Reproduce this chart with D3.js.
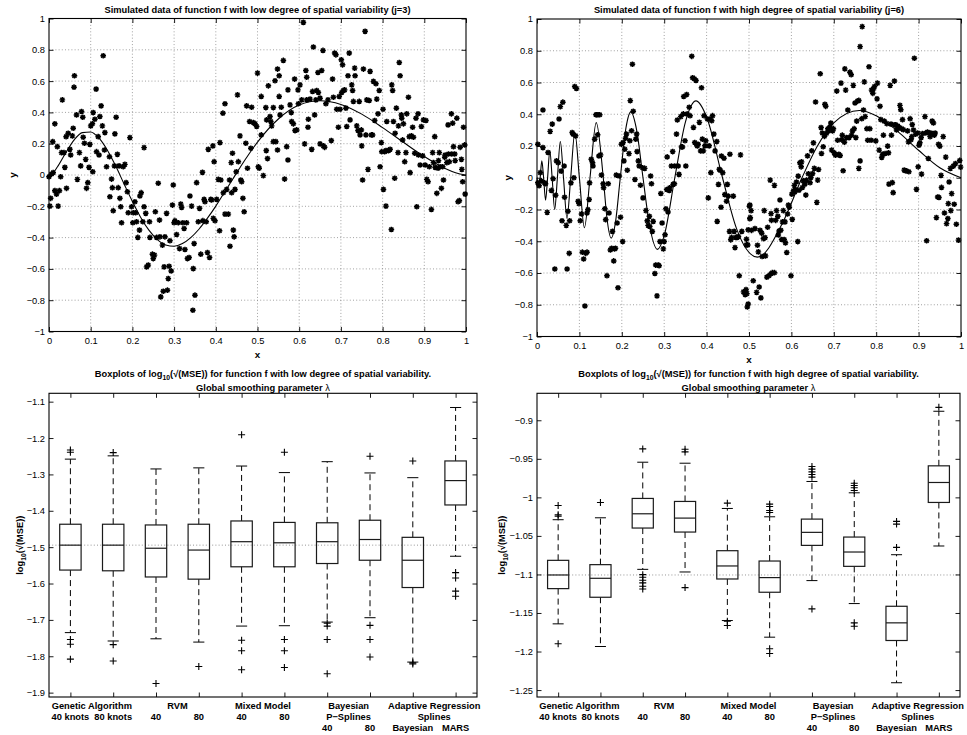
<!DOCTYPE html>
<html><head><meta charset="utf-8">
<script src="https://cdn.jsdelivr.net/npm/d3@7"></script>
<style>body{margin:0;background:#fff}svg{display:block}</style>
</head><body>
<svg id="chart" width="967" height="735"></svg>
<script>
// ---------------- DATA ----------------
const scatterXTicks = [0,0.1,0.2,0.3,0.4,0.5,0.6,0.7,0.8,0.9,1];
const scatterXLabels = ["0","0.1","0.2","0.3","0.4","0.5","0.6","0.7","0.8","0.9","1"];
const scatterYTicks = [-1,-0.8,-0.6,-0.4,-0.2,0,0.2,0.4,0.6,0.8,1];
const scatterYLabels = ["\u22121","\u22120.8","\u22120.6","\u22120.4","\u22120.2","0","0.2","0.4","0.6","0.8","1"];

// true function f, low spatial variability (j=3)
const lowCurveX = [0,0.01,0.02,0.04,0.06,0.08,0.10,0.12,0.14,0.16,0.18,0.20,0.22,0.24,0.26,0.28,0.30,0.32,0.34,0.36,0.38,0.40,0.42,0.44,0.46,0.48,0.50,0.55,0.60,0.65,0.70,0.75,0.80,0.85,0.90,0.95,0.975,1.0];
const lowCurveY = [0,0.014,0.051,0.141,0.223,0.271,0.275,0.235,0.158,0.057,-0.057,-0.169,-0.271,-0.354,-0.413,-0.447,-0.455,-0.438,-0.400,-0.345,-0.276,-0.199,-0.114,-0.029,0.056,0.136,0.210,0.358,0.447,0.474,0.451,0.389,0.303,0.209,0.118,0.042,0.015,0];

// true function f, high spatial variability (j=6)
const highCurveX = [0,0.0036,0.0074,0.0114,0.0156,0.0202,0.025,0.0302,0.0357,0.0417,0.0481,0.055,0.0625,0.0707,0.0795,0.0893,0.1,0.1118,0.125,0.1397,0.1563,0.165,0.175,0.185,0.1964,0.21,0.2212,0.235,0.25,0.265,0.2841,0.30,0.325,0.35,0.375,0.40,0.4375,0.47,0.52,0.58,0.625,0.66,0.70,0.76,0.80,0.85,0.90,0.95,1.0];
const highCurveY = [0,-0.060,0,0.106,0,-0.141,0,0.171,0,-0.200,0,0.228,0,-0.256,0,0.285,0,-0.315,0,0.347,0,-0.255,-0.380,-0.282,0,0.317,0.415,0.300,0,-0.293,-0.451,-0.365,0,0.351,0.484,0.383,0,-0.316,-0.500,-0.280,0,0.194,0.346,0.424,0.391,0.294,0.173,0.063,0];

// simulated data, j=3
const lowPoints = [[0.000,-0.011],[0.006,0.006],[0.010,0.015],[0.004,-0.149],[0.002,-0.199],[0.009,0.213],[0.014,0.327],[0.020,0.181],[0.014,-0.100],[0.018,-0.122],[0.025,-0.100],[0.022,-0.199],[0.028,-0.011],[0.032,0.480],[0.030,0.143],[0.036,0.143],[0.038,0.049],[0.041,0.245],[0.046,0.267],[0.042,-0.085],[0.050,0.164],[0.052,0.128],[0.056,0.250],[0.058,0.299],[0.061,0.634],[0.060,0.561],[0.066,0.384],[0.068,-0.028],[0.073,0.143],[0.076,0.058],[0.078,0.406],[0.081,0.369],[0.082,0.241],[0.085,0.203],[0.088,0.100],[0.090,-0.085],[0.093,-0.049],[0.096,0.049],[0.098,0.196],[0.100,0.314],[0.104,0.327],[0.106,0.399],[0.105,0.021],[0.110,0.356],[0.113,0.549],[0.114,0.149],[0.118,0.245],[0.120,0.128],[0.122,0.374],[0.125,0.442],[0.128,0.314],[0.133,0.160],[0.134,0.271],[0.130,0.762],[0.138,0.053],[0.145,0.117],[0.146,-0.139],[0.150,-0.026],[0.152,-0.081],[0.154,-0.228],[0.157,0.058],[0.158,0.263],[0.161,0.369],[0.164,0.132],[0.166,-0.081],[0.168,0.058],[0.170,-0.149],[0.172,-0.203],[0.174,-0.305],[0.178,0.053],[0.182,0.068],[0.185,-0.049],[0.188,-0.107],[0.190,-0.241],[0.194,0.239],[0.198,-0.203],[0.201,-0.305],[0.202,-0.241],[0.206,-0.171],[0.208,-0.241],[0.210,-0.299],[0.213,-0.399],[0.217,-0.352],[0.218,-0.134],[0.221,-0.113],[0.225,-0.299],[0.228,0.175],[0.228,-0.203],[0.232,-0.245],[0.234,-0.587],[0.238,-0.576],[0.241,-0.299],[0.242,-0.399],[0.248,-0.506],[0.250,-0.534],[0.253,-0.512],[0.255,-0.235],[0.258,-0.399],[0.262,-0.053],[0.265,-0.288],[0.266,-0.395],[0.268,-0.779],[0.272,-0.448],[0.274,-0.743],[0.276,-0.587],[0.278,-0.395],[0.282,-0.245],[0.284,-0.736],[0.286,-0.662],[0.288,-0.583],[0.290,-0.420],[0.293,-0.613],[0.296,-0.192],[0.298,-0.064],[0.300,-0.305],[0.302,-0.292],[0.306,-0.380],[0.310,-0.305],[0.313,-0.470],[0.316,-0.186],[0.318,-0.207],[0.321,-0.305],[0.324,-0.342],[0.326,-0.476],[0.330,-0.305],[0.332,-0.534],[0.336,-0.527],[0.338,-0.134],[0.342,-0.199],[0.345,-0.864],[0.346,-0.598],[0.348,-0.438],[0.350,-0.768],[0.354,-0.049],[0.358,-0.299],[0.361,-0.213],[0.364,-0.506],[0.368,0.017],[0.369,-0.292],[0.372,-0.156],[0.374,-0.171],[0.377,-0.299],[0.380,-0.495],[0.382,0.164],[0.385,-0.527],[0.388,-0.156],[0.390,-0.160],[0.393,0.186],[0.394,-0.277],[0.396,0.085],[0.398,-0.292],[0.402,-0.156],[0.406,-0.028],[0.409,-0.356],[0.410,0.207],[0.412,-0.032],[0.417,0.395],[0.418,-0.113],[0.422,0.455],[0.422,-0.250],[0.426,-0.092],[0.430,-0.250],[0.433,-0.032],[0.434,-0.455],[0.437,0.079],[0.438,-0.113],[0.440,0.139],[0.442,-0.352],[0.444,-0.395],[0.446,-0.092],[0.449,0.021],[0.452,0.512],[0.454,0.085],[0.458,0.250],[0.460,-0.032],[0.462,-0.043],[0.465,-0.149],[0.468,-0.235],[0.472,0.203],[0.474,0.442],[0.476,0.043],[0.481,0.342],[0.484,0.171],[0.486,0.433],[0.490,0.335],[0.494,0.327],[0.498,0.310],[0.500,0.651],[0.502,0.053],
[0.509,0.502],[0.509,0.256],[0.504,0.043],[0.514,-0.004],[0.520,0.431],[0.522,0.352],[0.521,0.156],[0.524,0.105],[0.526,0.570],[0.530,0.374],[0.532,0.342],[0.534,0.314],[0.538,0.431],[0.538,0.213],[0.542,0.602],[0.544,0.213],[0.548,0.677],[0.548,0.160],[0.552,0.502],[0.552,0.634],[0.554,0.384],[0.557,0.433],[0.562,0.732],[0.565,-0.026],[0.570,0.181],[0.573,0.544],[0.573,0.096],[0.578,0.448],[0.581,0.399],[0.582,0.342],[0.586,0.327],[0.589,0.613],[0.590,0.284],[0.594,0.288],[0.597,0.544],[0.598,0.455],[0.602,0.576],[0.606,0.480],[0.610,0.975],[0.613,0.199],[0.616,0.668],[0.618,0.625],[0.618,0.480],[0.621,0.305],[0.622,0.356],[0.626,0.485],[0.630,0.164],[0.632,0.534],[0.634,0.818],[0.637,0.384],[0.640,0.480],[0.642,0.540],[0.645,0.655],[0.646,0.527],[0.650,0.491],[0.650,0.199],[0.654,0.668],[0.657,0.796],[0.658,0.186],[0.661,0.177],[0.664,0.455],[0.669,0.480],[0.677,0.220],[0.680,0.613],[0.682,0.497],[0.685,0.779],[0.688,0.768],[0.690,0.420],[0.694,0.305],[0.696,0.502],[0.698,0.420],[0.701,0.736],[0.702,0.527],[0.704,0.704],[0.706,0.540],[0.709,0.544],[0.712,0.427],[0.714,0.310],[0.717,0.634],[0.720,0.779],[0.722,0.352],[0.726,0.576],[0.728,0.540],[0.730,0.470],[0.733,0.683],[0.734,0.634],[0.738,0.314],[0.741,0.284],[0.744,0.470],[0.746,0.256],[0.749,0.288],[0.750,0.186],[0.752,-0.032],[0.754,0.677],[0.758,0.918],[0.760,0.256],[0.762,0.480],[0.765,0.036],[0.768,0.476],[0.770,0.662],[0.773,0.256],[0.776,0.256],[0.778,0.598],[0.781,0.348],[0.784,0.583],[0.786,0.485],[0.789,0.391],[0.792,0.540],[0.794,0.053],[0.797,0.207],[0.798,0.149],[0.801,0.420],[0.802,-0.092],[0.805,0.149],[0.808,0.156],[0.808,-0.199],[0.810,0.342],[0.814,0.156],[0.818,0.164],[0.821,-0.348],[0.822,0.576],[0.824,0.540],[0.826,0.342],[0.829,-0.021],[0.830,0.267],[0.833,0.427],[0.837,0.143],[0.838,0.314],[0.840,0.719],[0.842,0.634],[0.845,0.384],[0.846,0.363],[0.848,0.224],[0.850,0.327],[0.853,0.085],[0.856,0.143],[0.858,0.391],[0.862,0.497],[0.864,0.245],[0.866,0.015],[0.869,0.250],[0.872,0.305],[0.874,0.241],[0.877,0.139],[0.880,0.363],[0.882,-0.203],[0.885,0.391],[0.886,0.128],[0.890,0.064],[0.893,0.310],[0.896,0.122],[0.898,0.352],[0.902,0.064],[0.904,0.348],[0.906,-0.028],[0.909,-0.043],[0.912,0.053],[0.917,-0.220],[0.920,0.143],[0.922,0.079],[0.925,0.245],[0.926,0.049],[0.930,-0.117],[0.933,0.043],[0.934,0.092],[0.936,0.143],[0.938,0.053],[0.941,-0.085],[0.944,0.053],[0.946,-0.032],[0.949,0.113],[0.950,0.128],[0.954,0.079],[0.957,0.320],[0.958,0.134],[0.960,0.085],[0.965,0.391],[0.966,0.134],[0.968,0.331],[0.970,0.181],[0.973,0.134],[0.974,0.092],[0.978,0.363],[0.981,-0.171],[0.984,-0.164],[0.986,0.177],[0.989,0.100],[0.990,0.036],[0.992,-0.043],[0.994,0.305],[0.997,0.192],[0.998,-0.122]];

// simulated data, j=6
const highPoints = [[0.002,0.211],[0.002,-0.032],[0.005,-0.050],[0.008,0.032],[0.010,-0.020],[0.014,0.427],[0.014,0.190],[0.018,-0.032],[0.020,-0.038],[0.024,-0.218],[0.026,0.159],[0.031,0.292],[0.034,-0.080],[0.036,0.338],[0.038,-0.006],[0.042,-0.575],[0.044,-0.110],[0.046,0.106],[0.050,0.095],[0.052,0.370],[0.055,0.448],[0.057,0.042],[0.059,-0.271],[0.061,0.476],[0.064,0.074],[0.065,-0.123],[0.069,-0.300],[0.071,-0.575],[0.073,-0.211],[0.076,-0.476],[0.077,-0.271],[0.080,-0.032],[0.083,0.285],[0.085,0.275],[0.087,0.000],[0.089,0.575],[0.091,0.264],[0.093,0.562],[0.097,-0.148],[0.099,-0.163],[0.102,-0.271],[0.105,-0.228],[0.107,-0.469],[0.110,-0.512],[0.113,-0.808],[0.115,-0.476],[0.118,-0.222],[0.118,-0.469],[0.120,-0.201],[0.123,-0.137],[0.124,-0.032],[0.128,0.116],[0.131,0.095],[0.132,0.074],[0.136,0.243],[0.139,0.397],[0.141,0.397],[0.143,0.271],[0.144,0.397],[0.146,0.137],[0.148,0.397],[0.150,0.144],[0.152,0.017],[0.156,-0.038],[0.157,-0.063],[0.160,-0.195],[0.162,-0.264],[0.165,-0.617],[0.168,-0.038],[0.170,-0.222],[0.173,-0.455],[0.176,-0.444],[0.178,-0.338],[0.181,-0.524],[0.183,-0.448],[0.185,-0.444],[0.187,0.017],[0.189,-0.285],[0.191,-0.693],[0.194,0.011],[0.197,-0.249],[0.199,0.211],[0.202,-0.402],[0.203,0.222],[0.205,0.106],[0.207,0.180],[0.209,0.249],[0.211,0.275],[0.213,0.047],[0.217,0.152],[0.219,0.233],[0.220,0.486],[0.223,0.296],[0.225,0.715],[0.227,0.419],[0.231,-0.011],[0.233,0.243],[0.235,0.275],[0.236,0.165],[0.239,0.106],[0.241,0.074],[0.244,-0.047],[0.249,0.063],[0.250,-0.127],[0.254,0.059],[0.257,-0.207],[0.260,-0.271],[0.262,-0.300],[0.265,-0.243],[0.266,-0.307],[0.268,0.011],[0.270,-0.038],[0.272,-0.338],[0.274,-0.275],[0.278,-0.603],[0.280,-0.550],[0.283,-0.744],[0.286,-0.550],[0.288,-0.554],[0.290,-0.402],[0.292,-0.099],[0.295,-0.285],[0.298,-0.448],[0.300,-0.402],[0.302,-0.359],[0.304,-0.195],[0.306,-0.074],[0.307,0.131],[0.309,-0.216],[0.312,-0.080],[0.313,-0.063],[0.317,0.074],[0.320,0.165],[0.321,-0.042],[0.324,-0.038],[0.325,0.074],[0.329,0.275],[0.331,0.364],[0.333,0.074],[0.335,0.021],[0.339,0.385],[0.341,0.194],[0.343,0.194],[0.345,0.402],[0.346,0.512],[0.349,0.233],[0.351,0.074],[0.353,0.524],[0.354,0.402],[0.359,0.444],[0.361,0.391],[0.365,0.765],[0.367,0.630],[0.369,0.317],[0.371,0.624],[0.372,0.222],[0.375,0.613],[0.376,0.211],[0.378,0.201],[0.380,0.211],[0.383,0.349],[0.386,0.169],[0.388,0.567],[0.390,0.243],[0.392,0.169],[0.394,0.391],[0.396,0.201],[0.398,0.233],[0.402,0.370],[0.404,-0.127],[0.406,0.201],[0.408,0.370],[0.410,0.032],[0.412,0.359],[0.414,0.391],[0.417,0.275],[0.420,0.169],[0.424,0.228],[0.425,-0.275],[0.428,-0.042],[0.430,0.053],[0.432,0.047],[0.434,-0.186],[0.435,0.137],[0.438,0.032],[0.441,0.123],[0.443,-0.106],[0.447,-0.148],[0.449,-0.042],[0.451,-0.116],[0.454,-0.338],[0.455,0.148],[0.457,-0.391],[0.459,-0.376],[0.463,-0.116],[0.465,-0.338],[0.467,-0.440],[0.469,-0.376],[0.472,-0.376],[0.475,-0.370],[0.477,-0.617],[0.480,0.144],[0.483,-0.338],[0.487,-0.719],[0.491,-0.736],[0.494,-0.423],[0.496,-0.814],[0.498,-0.328],[0.501,-0.180],[0.502,-0.258],
[0.494,-0.387],[0.497,-0.423],[0.493,-0.705],[0.495,-0.730],[0.498,-0.795],[0.502,-0.172],[0.505,-0.207],[0.503,-0.251],[0.506,-0.331],[0.510,-0.649],[0.514,-0.320],[0.518,-0.722],[0.520,-0.425],[0.522,-0.467],[0.524,-0.688],[0.526,-0.331],[0.528,-0.757],[0.530,-0.349],[0.531,-0.496],[0.534,-0.383],[0.536,-0.207],[0.538,-0.377],[0.539,-0.492],[0.542,-0.626],[0.544,-0.312],[0.547,-0.617],[0.550,-0.015],[0.552,-0.226],[0.552,-0.605],[0.553,-0.268],[0.555,-0.598],[0.560,-0.598],[0.560,-0.048],[0.563,-0.268],[0.565,-0.207],[0.568,-0.243],[0.569,-0.360],[0.571,-0.335],[0.573,-0.140],[0.575,-0.331],[0.577,-0.389],[0.579,-0.278],[0.581,-0.207],[0.583,-0.389],[0.585,-0.278],[0.586,-0.410],[0.589,-0.471],[0.591,-0.228],[0.593,-0.172],[0.595,-0.186],[0.599,-0.617],[0.601,-0.103],[0.602,-0.262],[0.605,-0.082],[0.607,-0.048],[0.608,-0.090],[0.610,-0.075],[0.612,-0.027],[0.615,-0.402],[0.616,0.010],[0.618,-0.079],[0.620,0.094],[0.623,0.069],[0.624,0.100],[0.626,-0.061],[0.628,-0.019],[0.631,-0.031],[0.632,-0.040],[0.634,-0.109],[0.636,-0.015],[0.638,0.138],[0.640,0.025],[0.644,-0.031],[0.646,0.002],[0.648,0.170],[0.650,0.027],[0.652,0.220],[0.654,0.059],[0.657,0.477],[0.660,-0.155],[0.662,-0.015],[0.664,0.052],[0.668,0.655],[0.670,0.316],[0.671,0.153],[0.673,0.282],[0.675,0.195],[0.678,0.261],[0.679,0.463],[0.681,0.450],[0.683,0.280],[0.686,0.309],[0.687,0.295],[0.691,0.320],[0.693,0.345],[0.695,0.174],[0.697,0.295],[0.699,0.309],[0.701,0.157],[0.704,0.142],[0.707,0.546],[0.709,0.236],[0.712,0.147],[0.715,0.140],[0.717,0.596],[0.719,0.239],[0.720,0.268],[0.722,0.044],[0.725,0.224],[0.726,0.686],[0.728,0.552],[0.730,0.253],[0.733,0.427],[0.736,0.253],[0.738,0.665],[0.741,0.649],[0.742,0.268],[0.744,0.295],[0.746,0.582],[0.748,0.309],[0.750,0.471],[0.752,0.253],[0.754,0.357],[0.756,0.483],[0.759,0.059],[0.759,0.487],[0.762,0.826],[0.762,0.106],[0.766,0.372],[0.767,0.952],[0.770,0.427],[0.772,0.604],[0.774,0.385],[0.778,0.309],[0.780,0.236],[0.783,0.699],[0.785,0.309],[0.788,0.236],[0.789,0.552],[0.792,0.532],[0.793,0.559],[0.796,0.575],[0.799,0.232],[0.802,0.497],[0.803,0.596],[0.807,0.174],[0.809,0.450],[0.811,0.366],[0.813,0.128],[0.815,0.147],[0.817,0.268],[0.819,0.357],[0.821,0.153],[0.825,0.341],[0.827,0.199],[0.829,0.157],[0.830,-0.040],[0.833,0.582],[0.835,0.338],[0.836,0.268],[0.838,-0.031],[0.840,-0.094],[0.843,0.609],[0.844,0.333],[0.846,0.333],[0.848,0.301],[0.851,0.326],[0.854,0.316],[0.856,0.456],[0.858,0.429],[0.860,0.309],[0.862,0.366],[0.864,0.303],[0.866,0.048],[0.869,0.044],[0.871,0.044],[0.874,0.295],[0.876,0.226],[0.877,0.038],[0.880,0.372],[0.882,0.239],[0.884,0.259],[0.885,0.335],[0.888,0.301],[0.890,0.753],[0.893,0.274],[0.895,-0.073],[0.898,0.282],[0.899,0.069],[0.901,0.205],[0.903,0.220],[0.906,0.253],[0.907,0.023],[0.909,0.278],[0.915,0.385],[0.917,0.282],[0.919,-0.397],[0.921,0.288],[0.923,0.121],[0.925,0.282],[0.927,0.259],[0.929,0.282],[0.932,0.357],[0.935,0.345],[0.937,0.268],[0.939,0.282],[0.942,-0.251],[0.945,-0.121],[0.947,0.211],[0.948,-0.124],[0.950,0.199],[0.953,0.015],[0.954,-0.061],[0.958,0.259],[0.961,-0.222],[0.964,0.130],[0.966,-0.289],[0.969,-0.257],[0.970,-0.163],[0.972,-0.027],[0.975,0.059],[0.976,-0.207],[0.978,-0.100],[0.982,0.073],[0.984,-0.167],[0.987,0.090],[0.989,-0.293],[0.994,-0.393],[0.997,0.109],[0.999,0.067]];

// boxplot categories
const groupNames = ["Genetic Algorithm","RVM","Mixed Model","Bayesian","Adaptive Regression"];
const groupSecond = ["","","","P\u2212Splines","Splines"];
const boxLabels = ["40 knots","80 knots","40","80","40","80","40","80","Bayesian","MARS"];
const boxLabelRow = [1,1,1,1,1,1,2,2,2,2];

// boxplot statistics: low spatial variability
const lowWhiskerHi = [-1.258,-1.249,-1.285,-1.282,-1.277,-1.295,-1.265,-1.296,-1.309,-1.116];
const lowQ3 = [-1.437,-1.437,-1.439,-1.437,-1.428,-1.432,-1.433,-1.426,-1.473,-1.263];
const lowMedian = [-1.4945,-1.4945,-1.503,-1.508,-1.485,-1.488,-1.485,-1.479,-1.536,-1.317];
const lowQ1 = [-1.563,-1.565,-1.582,-1.588,-1.554,-1.554,-1.545,-1.536,-1.611,-1.384];
const lowWhiskerLo = [-1.735,-1.758,-1.752,-1.761,-1.717,-1.716,-1.706,-1.694,-1.816,-1.525];
const lowOutliers = [[-1.233,-1.239,-1.754,-1.767,-1.808],[-1.240,-1.768,-1.813],[-1.875],[-1.828],[-1.191,-1.756,-1.785,-1.837],[-1.239,-1.754,-1.785,-1.831],[-1.709,-1.717,-1.754,-1.848],[-1.250,-1.715,-1.754,-1.802],[-1.263,-1.818,-1.821],[-1.570,-1.585,-1.621,-1.635]];
const lowYTicks = [-1.9,-1.8,-1.7,-1.6,-1.5,-1.4,-1.3,-1.2,-1.1];
const lowYLabels = ["\u22121.9","\u22121.8","\u22121.7","\u22121.6","\u22121.5","\u22121.4","\u22121.3","\u22121.2","\u22121.1"];

// boxplot statistics: high spatial variability
const highWhiskerHi = [-1.029,-1.0265,-0.9544,-0.9557,-1.0144,-1.0252,-0.9794,-0.9941,-1.0744,-0.8883];
const highQ3 = [-1.0817,-1.0873,-1.0014,-1.0053,-1.0692,-1.0826,-1.0282,-1.0515,-1.1413,-0.9591];
const highMedian = [-1.1007,-1.105,-1.0213,-1.0269,-1.089,-1.1041,-1.0454,-1.0709,-1.1628,-0.9807];
const highQ1 = [-1.1184,-1.1296,-1.0398,-1.045,-1.1059,-1.1231,-1.0623,-1.0895,-1.1857,-1.0066];
const highWhiskerLo = [-1.1641,-1.1935,-1.0934,-1.0968,-1.1598,-1.1814,-1.108,-1.1378,-1.2405,-1.0631];
const highOutliers = [[-1.0105,-1.0226,-1.0243,-1.190],[-1.0066],[-0.9371,-1.1003,-1.1037,-1.1076,-1.111,-1.1154,-1.1188],[-0.9375,-0.941,-1.1171],[-1.0075,-1.1607,-1.1663],[-1.0088,-1.0118,-1.017,-1.0196,-1.1965,-1.2025],[-0.96,-0.9634,-0.9669,-0.9703,-0.9738,-1.1447],[-0.9816,-0.9846,-0.9876,-0.9911,-1.1628,-1.1672],[-1.0312,-1.0347,-1.0649],[-0.8832]];
const highYTicks = [-1.25,-1.2,-1.15,-1.1,-1.05,-1,-0.95,-0.9];
const highYLabels = ["\u22121.25","\u22121.2","\u22121.15","\u22121.1","\u22121.05","\u22121","\u22120.95","\u22120.9"];

// ---------------- DRAWING ----------------
const FONT = '"Liberation Sans", Arial, Helvetica, sans-serif';
const FS = 9.3;
const TK = 4.5;
const svg = d3.select("#chart").attr("font-family", FONT);

const asterisk = { draw(ctx, size) { const r = Math.sqrt(size) / 2, d = r * 0.72;
  ctx.moveTo(-r, 0); ctx.lineTo(r, 0); ctx.moveTo(0, -r); ctx.lineTo(0, r);
  ctx.moveTo(-d, -d); ctx.lineTo(d, d); ctx.moveTo(-d, d); ctx.lineTo(d, -d); } };
const plusSym = { draw(ctx, size) { const r = Math.sqrt(size) / 2;
  ctx.moveTo(-r, 0); ctx.lineTo(r, 0); ctx.moveTo(0, -r); ctx.lineTo(0, r); } };

function styleAxis(a) {
  a.attr("font-size", FS).attr("font-family", FONT);
  a.select(".domain").remove();
  a.selectAll("line").attr("stroke", "#000").attr("stroke-width", 0.9);
  a.selectAll("text").attr("fill", "#000");
}

function drawAxes(g, x, y, xt, xl, yt, yl, xpad) {
  const [L, R] = x.range(); const [B, T] = y.range();
  styleAxis(g.append("g").attr("transform", `translate(0,${B})`)
    .call(d3.axisBottom(x).tickValues(xt).tickFormat(xl ? (d, i) => xl[i] : () => "")
      .tickSizeInner(-TK).tickSizeOuter(0).tickPadding(xpad)));
  styleAxis(g.append("g").attr("transform", `translate(0,${T})`)
    .call(d3.axisTop(x).tickValues(xt).tickFormat(() => "").tickSizeInner(-TK).tickSizeOuter(0)));
  styleAxis(g.append("g").attr("transform", `translate(${L},0)`)
    .call(d3.axisLeft(y).tickValues(yt).tickFormat((d, i) => yl[i])
      .tickSizeInner(-TK).tickSizeOuter(0).tickPadding(4)));
  styleAxis(g.append("g").attr("transform", `translate(${R},0)`)
    .call(d3.axisRight(y).tickValues(yt).tickFormat(() => "").tickSizeInner(-TK).tickSizeOuter(0)));
  g.append("rect").attr("x", L).attr("y", T).attr("width", R - L).attr("height", B - T)
    .attr("fill", "none").attr("stroke", "#000").attr("stroke-width", 1.1);
}

function scatterPanel(cfg) {
  const g = svg.append("g");
  const x = d3.scaleLinear().domain([0, 1]).range([cfg.left, cfg.right]);
  const y = d3.scaleLinear().domain([-1, 1]).range([cfg.bottom, cfg.top]);
  const grid = g.append("g").attr("stroke", "#8a8a8a").attr("stroke-width", 0.8).attr("stroke-dasharray", "1,2.2");
  grid.selectAll("line.v").data(scatterXTicks.slice(1, -1)).join("line").attr("class", "v")
    .attr("x1", d => x(d)).attr("x2", d => x(d)).attr("y1", cfg.top).attr("y2", cfg.bottom);
  grid.selectAll("line.h").data(scatterYTicks.slice(1, -1)).join("line").attr("class", "h")
    .attr("y1", d => y(d)).attr("y2", d => y(d)).attr("x1", cfg.left).attr("x2", cfg.right);
  const line = d3.line().x(d => x(d[0])).y(d => y(d[1])).curve(d3.curveMonotoneX);
  g.append("path").datum(d3.zip(cfg.curveX, cfg.curveY)).attr("d", line)
    .attr("fill", "none").attr("stroke", "#000").attr("stroke-width", 1.1);
  g.append("g").selectAll("path").data(cfg.points).join("path")
    .attr("transform", d => `translate(${x(d[0]).toFixed(2)},${y(d[1]).toFixed(2)})`)
    .attr("d", d3.symbol().type(asterisk).size(32))
    .attr("fill", "none").attr("stroke", "#000").attr("stroke-width", 1.45);
  drawAxes(g, x, y, scatterXTicks, scatterXLabels, scatterYTicks, scatterYLabels, 5.5);
  const cx = (cfg.left + cfg.right) / 2;
  g.append("text").attr("x", cx).attr("y", cfg.top - 6).attr("text-anchor", "middle")
    .attr("font-size", FS).attr("font-weight", "bold").text(cfg.title);
  g.append("text").attr("x", cx).attr("y", cfg.bottom + 26.5).attr("text-anchor", "middle")
    .attr("font-size", FS + 0.5).attr("font-weight", "bold").text("x");
  g.append("text").attr("transform", `translate(${cfg.ylabX},${(cfg.top + cfg.bottom) / 2}) rotate(-90)`)
    .attr("text-anchor", "middle").attr("font-size", FS + 0.5).attr("font-weight", "bold").text("y");
}

function boxPanel(cfg) {
  const g = svg.append("g");
  const n = cfg.median.length;
  const x = d3.scaleLinear().domain([0.5, n + 0.5]).range([cfg.left, cfg.right]);
  const y = d3.scaleLinear().domain(cfg.domain).range([cfg.bottom, cfg.top]);
  const pos = d3.range(1, n + 1);
  g.append("line").attr("x1", cfg.left).attr("x2", cfg.right)
    .attr("y1", y(cfg.median[0])).attr("y2", y(cfg.median[0]))
    .attr("stroke", "#8a8a8a").attr("stroke-width", 0.9).attr("stroke-dasharray", "1,2.2");
  const bw = 0.25, cw = 0.13;
  const items = g.append("g").selectAll("g").data(pos).join("g");
  items.append("line").attr("x1", p => x(p)).attr("x2", p => x(p))
    .attr("y1", (p, i) => y(cfg.q3[i])).attr("y2", (p, i) => y(cfg.whiskerHi[i]))
    .attr("stroke", "#000").attr("stroke-width", 1).attr("stroke-dasharray", "6,4");
  items.append("line").attr("x1", p => x(p)).attr("x2", p => x(p))
    .attr("y1", (p, i) => y(cfg.q1[i])).attr("y2", (p, i) => y(cfg.whiskerLo[i]))
    .attr("stroke", "#000").attr("stroke-width", 1).attr("stroke-dasharray", "6,4");
  items.append("line").attr("x1", p => x(p - cw)).attr("x2", p => x(p + cw))
    .attr("y1", (p, i) => y(cfg.whiskerHi[i])).attr("y2", (p, i) => y(cfg.whiskerHi[i]))
    .attr("stroke", "#000").attr("stroke-width", 1);
  items.append("line").attr("x1", p => x(p - cw)).attr("x2", p => x(p + cw))
    .attr("y1", (p, i) => y(cfg.whiskerLo[i])).attr("y2", (p, i) => y(cfg.whiskerLo[i]))
    .attr("stroke", "#000").attr("stroke-width", 1);
  items.append("rect").attr("x", p => x(p - bw)).attr("width", p => x(p + bw) - x(p - bw))
    .attr("y", (p, i) => y(cfg.q3[i])).attr("height", (p, i) => y(cfg.q1[i]) - y(cfg.q3[i]))
    .attr("fill", "none").attr("stroke", "#1a1a1a").attr("stroke-width", 1.2);
  items.append("line").attr("x1", p => x(p - bw)).attr("x2", p => x(p + bw))
    .attr("y1", (p, i) => y(cfg.median[i])).attr("y2", (p, i) => y(cfg.median[i]))
    .attr("stroke", "#1a1a1a").attr("stroke-width", 1.2);
  const outl = [];
  cfg.outliers.forEach((arr, i) => arr.forEach(v => outl.push([pos[i], v])));
  g.append("g").selectAll("path").data(outl).join("path")
    .attr("transform", d => `translate(${x(d[0])},${y(d[1])})`)
    .attr("d", d3.symbol().type(plusSym).size(49))
    .attr("fill", "none").attr("stroke", "#000").attr("stroke-width", 1.1);
  drawAxes(g, x, y, pos, null, cfg.yTicks, cfg.yLabels, 4);
  const cx = (cfg.left + cfg.right) / 2;
  const t = g.append("text").attr("x", cx).attr("y", cfg.top - 16).attr("text-anchor", "middle")
    .attr("font-size", FS).attr("font-weight", "bold");
  t.append("tspan").text("Boxplots of log");
  t.append("tspan").attr("font-size", 6.8).attr("dy", 3).text("10");
  t.append("tspan").attr("dy", -3).text(`(\u221A(MSE)) for function f with ${cfg.level} degree of spatial variability.`);
  const t2 = g.append("text").attr("x", cx).attr("y", cfg.top - 2.5).attr("text-anchor", "middle")
    .attr("font-size", FS).attr("font-weight", "bold");
  t2.append("tspan").text("Global smoothing parameter ");
  t2.append("tspan").attr("font-weight", "normal").text("\u03BB");
  const yl = g.append("text").attr("transform", `translate(${cfg.ylabX},${(cfg.top + cfg.bottom) / 2}) rotate(-90)`)
    .attr("text-anchor", "middle").attr("font-size", FS).attr("font-weight", "bold");
  yl.append("tspan").text("log");
  yl.append("tspan").attr("font-size", 6.8).attr("dy", 3).text("10");
  yl.append("tspan").attr("dy", -3).text("(\u221A(MSE))");
  const lab = g.append("g").attr("font-size", FS).attr("font-weight", "bold").attr("text-anchor", "middle");
  const rowY = r => cfg.bottom + 12 + r * 11;
  lab.selectAll("text.g1").data(groupNames).join("text").attr("class", "g1")
    .attr("x", (d, i) => x(2 * i + 1.5)).attr("y", rowY(0)).text(d => d);
  lab.selectAll("text.g2").data(groupSecond).join("text").attr("class", "g2")
    .attr("x", (d, i) => x(2 * i + 1.5)).attr("y", rowY(1)).text(d => d);
  lab.selectAll("text.b").data(boxLabels).join("text").attr("class", "b")
    .attr("x", (d, i) => x(pos[i])).attr("y", (d, i) => rowY(boxLabelRow[i])).text(d => d);
}

scatterPanel({ left: 49, right: 466, top: 18.5, bottom: 331.5, ylabX: 16,
  points: lowPoints, curveX: lowCurveX, curveY: lowCurveY,
  title: "Simulated data of function f with low degree of spatial variability (j=3)" });
scatterPanel({ left: 537, right: 961, top: 19, bottom: 336.5, ylabX: 511,
  points: highPoints, curveX: highCurveX, curveY: highCurveY,
  title: "Simulated data of function f with high degree of spatial variability (j=6)" });

boxPanel({ left: 49, right: 477, top: 393.3, bottom: 697, ylabX: 23, domain: [-1.912, -1.077],
  level: "low", whiskerHi: lowWhiskerHi, q3: lowQ3, median: lowMedian, q1: lowQ1,
  whiskerLo: lowWhiskerLo, outliers: lowOutliers, yTicks: lowYTicks, yLabels: lowYLabels });
boxPanel({ left: 537, right: 960, top: 393.3, bottom: 697, ylabX: 505, domain: [-1.259, -0.865],
  level: "high", whiskerHi: highWhiskerHi, q3: highQ3, median: highMedian, q1: highQ1,
  whiskerLo: highWhiskerLo, outliers: highOutliers, yTicks: highYTicks, yLabels: highYLabels });
</script>
</body></html>
